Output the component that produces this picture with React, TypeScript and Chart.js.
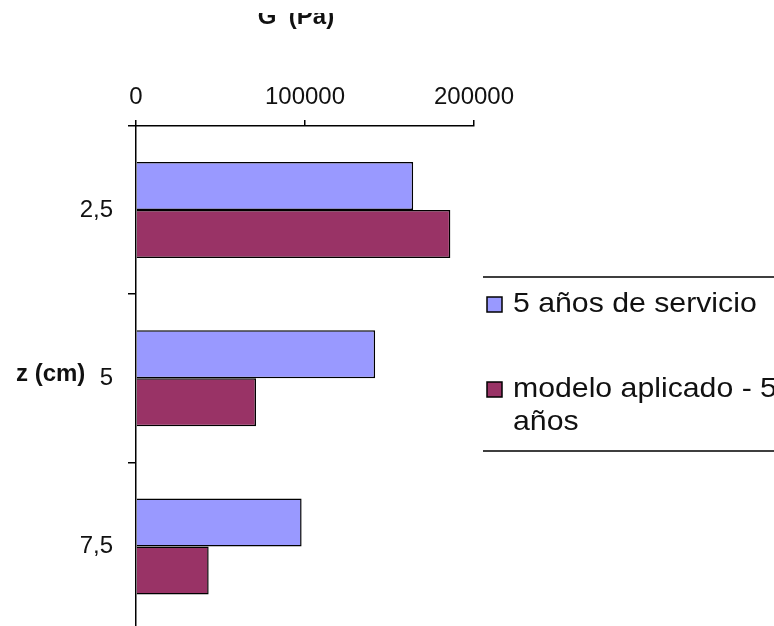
import React, { useEffect, useRef } from "react";
import { Chart, registerables } from "chart.js";

Chart.register(...registerables);

const categories = ["2,5", "5", "7,5"];
const seriesNames = ["5 años de servicio", "modelo aplicado - 5 años"];
const serviceValues = [164000, 141500, 98000];
const modelValues = [186000, 71000, 43000];
const seriesColors = ["#9999FF", "#993366"];
const xTickValues = [0, 100000, 200000];
const xTitle = "G' (Pa)";
const yTitle = "z (cm)";

const FONT = "'Liberation Sans', Arial, Helvetica, sans-serif";

const overlayPlugin = {
  id: "overlay",
  afterDraw(chart: any) {
    const ctx: CanvasRenderingContext2D = chart.ctx;
    const area = chart.chartArea;
    ctx.save();

    // x-axis title (cut at the top as in the reference)
    ctx.save();
    ctx.beginPath();
    ctx.rect(0, 13, chart.width, chart.height);
    ctx.clip();
    ctx.font = `bold 24px ${FONT}`;
    ctx.fillStyle = "#111";
    ctx.textAlign = "center";
    ctx.textBaseline = "alphabetic";
    ctx.fillText(xTitle, (area.left + area.right) / 2 - 9, 24);
    ctx.restore();

    // y-axis title, horizontal
    ctx.font = `bold 24px ${FONT}`;
    ctx.fillStyle = "#111";
    ctx.textAlign = "left";
    ctx.textBaseline = "alphabetic";
    ctx.fillText(yTitle, 16, 381);

    // legend
    const lx = 483;
    ctx.strokeStyle = "#000";
    ctx.lineWidth = 1.5;
    ctx.beginPath();
    ctx.moveTo(lx, 277);
    ctx.lineTo(chart.width, 277);
    ctx.moveTo(lx, 451);
    ctx.lineTo(chart.width, 451);
    ctx.stroke();

    const itemBaselines = [312, 397];
    const lineGap = 33;
    const sx = 1.08;
    chart.data.datasets.forEach((ds: any, i: number) => {
      const by = itemBaselines[i];
      ctx.fillStyle = ds.backgroundColor;
      ctx.fillRect(487, by - 15, 15, 15);
      ctx.strokeStyle = "#000";
      ctx.lineWidth = 1.5;
      ctx.strokeRect(487, by - 15, 15, 15);

      ctx.font = `28px ${FONT}`;
      ctx.fillStyle = "#111";
      const words = String(ds.label).split(" ");
      const lines: string[] = [];
      let cur = "";
      const maxW = 270 / sx;
      words.forEach((w) => {
        const test = cur ? cur + " " + w : w;
        if (ctx.measureText(test).width > maxW && cur) {
          lines.push(cur);
          cur = w;
        } else {
          cur = test;
        }
      });
      if (cur) lines.push(cur);
      lines.forEach((ln, k) => {
        ctx.save();
        ctx.translate(513, by + k * lineGap);
        ctx.scale(sx, 1);
        ctx.fillText(ln, 0, 0);
        ctx.restore();
      });
    });

    ctx.restore();
  },
};

export default function App() {
  const ref = useRef<HTMLCanvasElement | null>(null);

  useEffect(() => {
    document.body.style.margin = "0";
    document.body.style.overflow = "hidden";
    const canvas = ref.current;
    if (!canvas) return;
    const chart = new Chart(canvas, {
      type: "bar",
      data: {
        labels: categories,
        datasets: [
          {
            label: seriesNames[0],
            data: serviceValues,
            backgroundColor: seriesColors[0],
            borderColor: "#000",
            borderWidth: 1.5,
          },
          {
            label: seriesNames[1],
            data: modelValues,
            backgroundColor: seriesColors[1],
            borderColor: "#000",
            borderWidth: 1.5,
          },
        ],
      },
      options: {
        indexAxis: "y",
        responsive: false,
        animation: false,
        devicePixelRatio: 1,
        layout: { padding: { left: 0, right: 300, top: 0, bottom: 10 } },
        datasets: {
          bar: { categoryPercentage: 0.571, barPercentage: 1 },
        },
        plugins: {
          legend: { display: false },
          title: { display: false },
          tooltip: { enabled: false },
        },
        scales: {
          x: {
            position: "top",
            min: 0,
            max: 200000,
            afterBuildTicks: (scale: any) => {
              scale.ticks = xTickValues.map((v) => ({ value: v }));
            },
            afterFit: (scale: any) => {
              scale.height = 126;
            },
            ticks: {
              color: "#111",
              font: { family: FONT, size: 24 },
              padding: 8,
              maxRotation: 0,
              callback: (v: any) => String(v),
            },
            grid: {
              drawOnChartArea: false,
              drawTicks: true,
              tickLength: 6,
              color: "#000",
              lineWidth: 1.5,
            },
            border: { display: true, color: "#000", width: 1.5 },
          },
          y: {
            afterFit: (scale: any) => {
              scale.width = 136;
            },
            ticks: {
              color: "#111",
              font: { family: FONT, size: 24 },
              padding: 15,
            },
            grid: {
              offset: true,
              drawOnChartArea: false,
              drawTicks: true,
              tickLength: 8,
              color: "#000",
              lineWidth: 1.5,
            },
            border: { display: true, color: "#000", width: 1.5 },
          },
        },
      },
      plugins: [overlayPlugin],
    } as any);
    return () => chart.destroy();
  }, []);

  return (
    <div style={{ width: 774, height: 626, overflow: "hidden", background: "#fff" }}>
      <canvas ref={ref} width={774} height={660} style={{ display: "block" }} />
    </div>
  );
}
